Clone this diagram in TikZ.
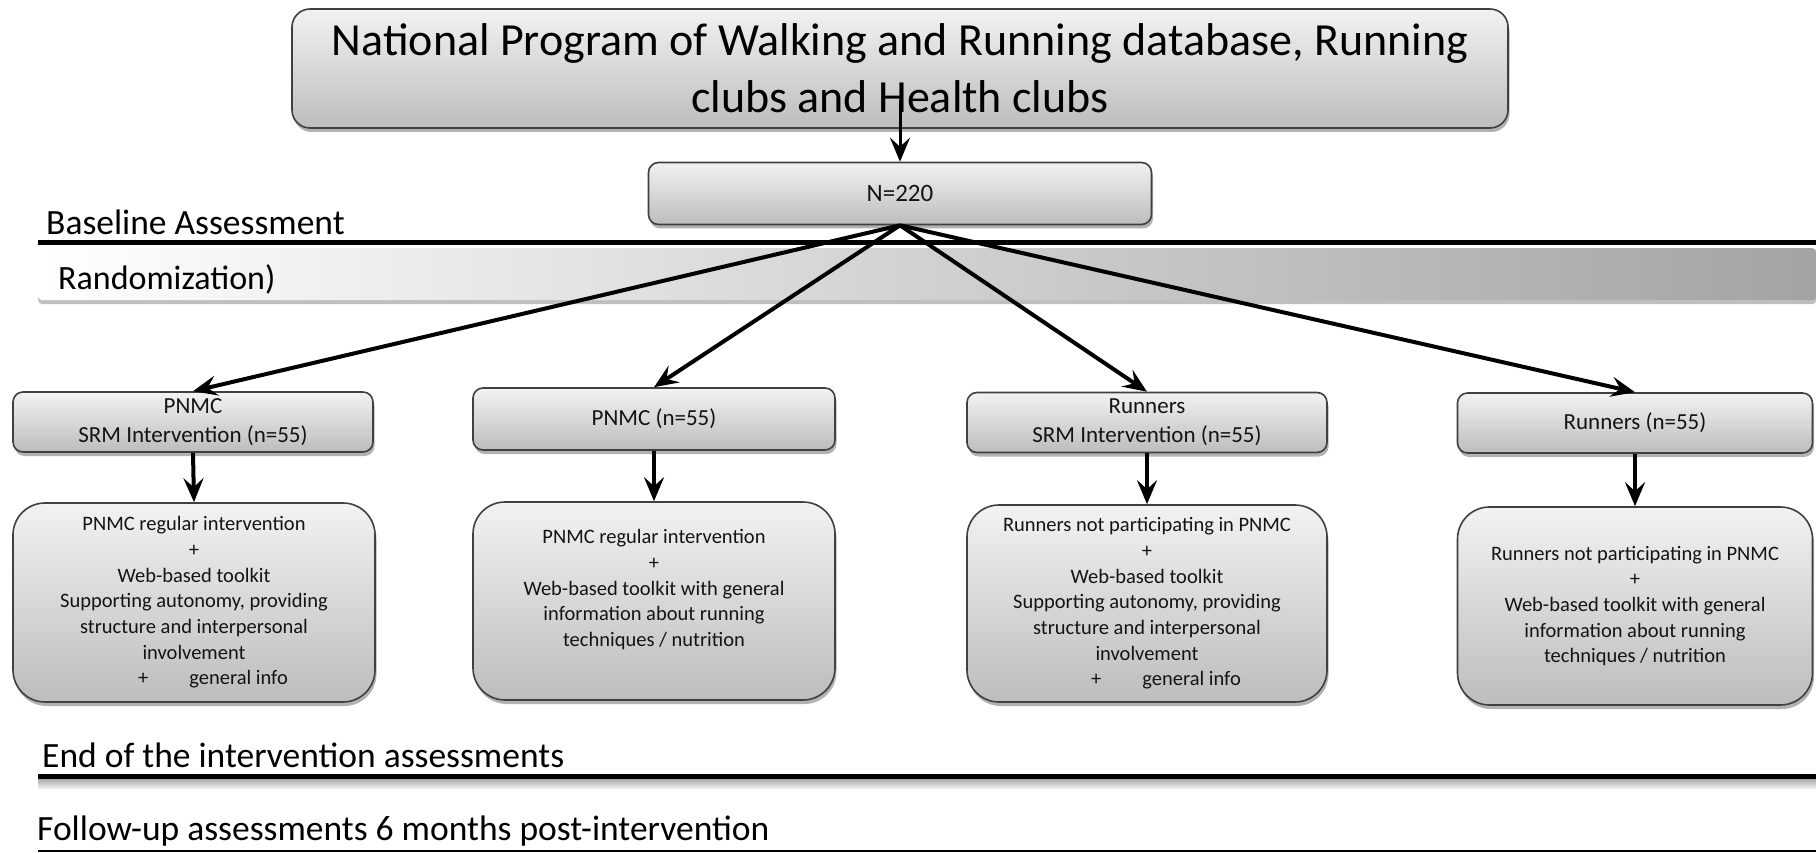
\documentclass[tikz,border=0pt]{standalone}
\usepackage{fontspec}
\setmainfont{Carlito}
\usetikzlibrary{arrows.meta,shadows}
\begin{document}
\begin{tikzpicture}[x=1pt,y=-1pt,
  box/.style={draw=black!75, line width=1.6pt, top color=black!5, bottom color=black!26,
    drop shadow={shadow xshift=1.5pt,shadow yshift=-4pt,opacity=0.3,fill=black},
    align=center, inner sep=0pt, text=black!92},
  grp/.style={box, rounded corners=10pt, minimum width=360pt, minimum height=60pt,
    font=\fontsize{23}{29}\selectfont},
  det/.style={box, rounded corners=32pt, minimum width=362pt, minimum height=198pt,
    font=\fontsize{20.5}{25.7}\selectfont},
  lbl/.style={anchor=base west, inner sep=0pt, font=\fontsize{35.5}{40}\selectfont},
  arr/.style={line width=4pt, -{Stealth[length=24pt,width=20pt,inset=9pt]}},
  rule/.style={line width=5pt},
]
\useasboundingbox (0,0) rectangle (1816,853);

% top box
\node[box, rounded corners=18pt, minimum width=1216pt, minimum height=119pt,
  font=\fontsize{46}{57}\selectfont, text=black] (top) at (900,68.5)
  {National Program of Walking and Running database, Running\\clubs and Health clubs};

% N=220
\node[box, rounded corners=10pt, minimum width=503pt, minimum height=62pt,
  font=\fontsize{25}{30}\selectfont] (n) at (900,193.5) {N=220};

% baseline assessment
\node[lbl] (bl) at (46,235) {Baseline Assessment};
\coordinate (bla) at (38,243);
\coordinate (blb) at (1816,243);
\draw[rule] (bla) -- (blb);

% randomization band
\node[anchor=north west, left color=white, right color=black!36, minimum width=1778pt,
  minimum height=52pt, rounded corners=4pt, inner sep=0pt,
  drop shadow={shadow xshift=0pt,shadow yshift=-4pt,opacity=0.25,fill=black}] (band) at (38,248) {};
\node[lbl, font=\fontsize{34}{40}\selectfont] (rand) at (58,290) {Randomization)};

% group boxes
\node[grp] (g1) at (193,422) {PNMC\\SRM Intervention (n=55)};
\node[grp, minimum width=362pt, minimum height=62pt] (g2) at (654,419) {PNMC (n=55)};
\node[grp] (g3) at (1147,422.5) {Runners\\SRM Intervention (n=55)};
\node[grp, minimum width=355pt] (g4) at (1635,423) {Runners (n=55)};

% detail boxes
\node[det, minimum height=199pt] (d1) at (194,602.5)
  {PNMC regular intervention\\+\\Web-based toolkit\\Supporting autonomy, providing\\structure and interpersonal\\involvement\\\hspace*{38pt}+\hspace{41pt}general info};
\node[det] (d2) at (654,601)
  {PNMC regular intervention\\+\\Web-based toolkit with general\\information about running\\techniques / nutrition\\\mbox{}};
\node[det, minimum width=360pt, minimum height=197pt] (d3) at (1147,603.5)
  {Runners not participating in PNMC\\+\\Web-based toolkit\\Supporting autonomy, providing\\structure and interpersonal\\involvement\\\hspace*{38pt}+\hspace{41pt}general info};
\node[det, minimum width=355pt] (d4) at (1635,606)
  {Runners not participating in PNMC\\+\\Web-based toolkit with general\\information about running\\techniques / nutrition};

% arrows
\coordinate (tsrc) at (900,100);
\draw[arr, line width=3pt] (tsrc) -- (n.north);
\foreach \i in {1,2,3,4} {
  \draw[arr] (n.south) -- (g\i.north);
  \draw[arr] (g\i.south) -- (d\i.north);
}

% end of intervention
\node[lbl] (endl) at (42,767) {End of the intervention assessments};
\fill[top color=black!40, bottom color=white] (38,777) rectangle (1816,790);
\coordinate (ea) at (38,776);
\coordinate (eb) at (1816,776);
\draw[rule] (ea) -- (eb);

% follow-up
\node[lbl] (fu) at (37,840) {Follow-up assessments 6 months post-intervention};
\coordinate (fa) at (38,851);
\coordinate (fb) at (1816,851);
\draw[line width=2pt] (fa) -- (fb);
\end{tikzpicture}
\end{document}
